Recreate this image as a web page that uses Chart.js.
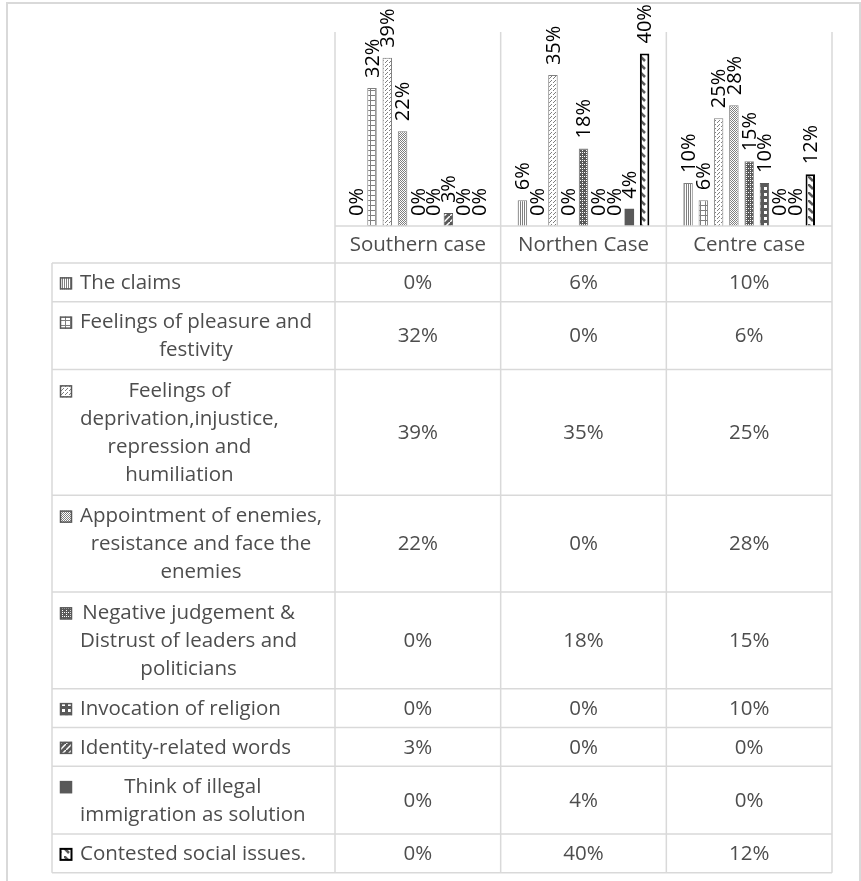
<!DOCTYPE html>
<html lang="en">
<head>
<meta charset="UTF-8">
<title>Discourse themes by case</title>
<script src="https://cdn.jsdelivr.net/npm/chart.js"></script>
<style>
  html, body { margin: 0; padding: 0; background: #fff; }
  canvas { display: block; }
</style>
</head>
<body>
<canvas id="chart" width="861" height="881"></canvas>
<script>
// columns of the data table
const cases = ['Southern case', 'Northen Case', 'Centre case'];

// row labels, split the way the table wraps them
const claimsLabel      = ['The claims'];
const pleasureLabel    = ['Feelings of pleasure and', 'festivity'];
const deprivationLabel = ['Feelings of', 'deprivation,injustice,', 'repression and', 'humiliation'];
const enemiesLabel     = ['Appointment of enemies,', 'resistance and face the', 'enemies'];
const distrustLabel    = ['Negative judgement &', 'Distrust of leaders and', 'politicians'];
const religionLabel    = ['Invocation of religion'];
const identityLabel    = ['Identity-related words'];
const immigrationLabel = ['Think of illegal', 'immigration as solution'];
const socialLabel      = ['Contested social issues.'];

// values in %, one per case
const claims      = [0, 6, 10];
const pleasure    = [32, 0, 6];
const deprivation = [39, 35, 25];
const enemies     = [22, 0, 28];
const distrust    = [0, 18, 15];
const religion    = [0, 0, 10];
const identity    = [3, 0, 0];
const immigration = [0, 4, 0];
const social      = [0, 40, 12];

const yMax = 45;

// --- fill patterns (Excel style hatches) ---
function pattern(size, draw) {
  const c = document.createElement('canvas');
  c.width = c.height = size;
  const g = c.getContext('2d');
  draw(g, size);
  return g.createPattern(c, 'repeat');
}
const GRAY = '#7f7f7f', DARK = '#595959';

const pClaims = pattern(2, g => { g.fillStyle = '#fff'; g.fillRect(0, 0, 2, 2); g.fillStyle = GRAY; g.fillRect(0, 0, 1, 2); });
const pPleasure = pattern(5, g => { g.fillStyle = '#fff'; g.fillRect(0, 0, 5, 5); g.fillStyle = GRAY; g.fillRect(0, 0, 5, 1); g.fillRect(0, 0, 1, 5); });
const pDeprivation = pattern(4, g => {
  g.fillStyle = '#fff'; g.fillRect(0, 0, 4, 4); g.fillStyle = GRAY;
  g.fillRect(3, 0, 1, 1); g.fillRect(2, 1, 1, 1); g.fillRect(1, 2, 1, 1);
});
const pEnemies = pattern(2, g => { g.fillStyle = '#fff'; g.fillRect(0, 0, 2, 2); g.fillStyle = GRAY; g.fillRect(0, 0, 1, 1); g.fillRect(1, 1, 1, 1); });
const pDistrust = pattern(4, g => {
  g.fillStyle = DARK; g.fillRect(0, 0, 4, 4); g.fillStyle = '#fff';
  g.fillRect(0, 0, 1, 1); g.fillRect(2, 2, 1, 1); g.fillRect(2, 0, 1, 1);
});
const pReligion = pattern(6, g => { g.fillStyle = DARK; g.fillRect(0, 0, 6, 6); g.fillStyle = '#fff'; g.fillRect(2, 1, 3, 3); });
const pIdentity = pattern(6, g => {
  g.fillStyle = DARK; g.fillRect(0, 0, 6, 6); g.strokeStyle = '#fff'; g.lineWidth = 1.5;
  g.beginPath(); g.moveTo(-1, 7); g.lineTo(7, -1); g.stroke();
});
const pSocial = pattern(8, g => {
  g.fillStyle = '#fff'; g.fillRect(0, 0, 8, 8); g.strokeStyle = DARK; g.lineWidth = 2.5;
  g.beginPath(); g.moveTo(-1, -1); g.lineTo(5, 5); g.stroke();
});

const rows = [
  { label: claimsLabel,      data: claims,      fill: pClaims,      border: GRAY,  bw: 1 },
  { label: pleasureLabel,    data: pleasure,    fill: pPleasure,    border: GRAY,  bw: 1 },
  { label: deprivationLabel, data: deprivation, fill: pDeprivation, border: GRAY,  bw: 1 },
  { label: enemiesLabel,     data: enemies,     fill: pEnemies,     border: GRAY,  bw: 1 },
  { label: distrustLabel,    data: distrust,    fill: pDistrust,    border: GRAY,  bw: 1 },
  { label: religionLabel,    data: religion,    fill: pReligion,    border: DARK,  bw: 1 },
  { label: identityLabel,    data: identity,    fill: pIdentity,    border: DARK,  bw: 1 },
  { label: immigrationLabel, data: immigration, fill: DARK,         border: DARK,  bw: 0 },
  { label: socialLabel,      data: social,      fill: pSocial,      border: '#000', bw: 2 }
];

const FONT = '"Open Sans", "DejaVu Sans", sans-serif';
const LINE = '#d9d9d9';
const TEXT = '#4d4d4d';

// white page with the light chart frame
const frame = {
  id: 'frame',
  beforeDraw(chart) {
    const ctx = chart.ctx;
    ctx.save();
    ctx.fillStyle = '#fff';
    ctx.fillRect(0, 0, chart.width, chart.height);
    ctx.strokeStyle = LINE;
    ctx.lineWidth = 2;
    ctx.strokeRect(7, 3, 853, chart.height + 20);
    ctx.restore();
  }
};

// rotated value labels above each bar
const valueLabels = {
  id: 'valueLabels',
  afterDatasetsDraw(chart) {
    const ctx = chart.ctx;
    ctx.save();
    ctx.font = '20px ' + FONT;
    ctx.fillStyle = '#000';
    ctx.textAlign = 'left';
    ctx.textBaseline = 'middle';
    chart.data.datasets.forEach((ds, i) => {
      chart.getDatasetMeta(i).data.forEach((bar, j) => {
        ctx.save();
        ctx.translate(bar.x + 1, bar.y - 10);
        ctx.rotate(-Math.PI / 2);
        ctx.fillText(ds.data[j] + '%', 0, 0);
        ctx.restore();
      });
    });
    ctx.restore();
  }
};

// the data table under the plot
const dataTable = {
  id: 'dataTable',
  afterDraw(chart) {
    const ctx = chart.ctx, x = chart.scales.x, area = chart.chartArea;
    const half = (x.getPixelForTick(1) - x.getPixelForTick(0)) / 2;
    const edges = [area.left].concat(cases.map((c, i) => x.getPixelForTick(i) + half));
    const tableLeft = 52, headerH = 37, lineGap = 28;
    const rowH = n => 9.75 + 29 * n;

    let y = area.bottom + headerH;
    const tops = [y];
    rows.forEach(r => { y += rowH(r.label.length); tops.push(y); });
    const bottom = y;

    ctx.save();
    ctx.strokeStyle = LINE;
    ctx.lineWidth = 1.5;
    ctx.beginPath();
    edges.forEach(ex => { ctx.moveTo(ex, area.top); ctx.lineTo(ex, bottom); });
    ctx.moveTo(tableLeft, tops[0]); ctx.lineTo(tableLeft, bottom);
    ctx.moveTo(area.left, area.bottom); ctx.lineTo(area.right, area.bottom);
    tops.forEach(t => { ctx.moveTo(tableLeft, t); ctx.lineTo(area.right, t); });
    ctx.stroke();

    ctx.font = '20.5px ' + FONT;
    ctx.fillStyle = TEXT;
    ctx.textBaseline = 'middle';

    // header
    ctx.textAlign = 'center';
    cases.forEach((c, i) => ctx.fillText(c, x.getPixelForTick(i), area.bottom + headerH / 2 + 1));

    rows.forEach((r, k) => {
      const top = tops[k], h = rowH(r.label.length), mid = top + h / 2 + 1;
      const n = r.label.length;
      const firstY = mid - (n - 1) / 2 * lineGap;

      // legend key
      ctx.fillStyle = r.fill;
      ctx.fillRect(60, firstY - 6, 12, 12);
      ctx.strokeStyle = r.bw === 2 ? '#000' : DARK;
      ctx.lineWidth = r.bw === 2 ? 2 : 1.5;
      ctx.strokeRect(60.5, firstY - 5.5, 11, 11);

      ctx.fillStyle = TEXT;
      const textLeft = 80;
      if (n === 1) {
        ctx.textAlign = 'left';
        ctx.fillText(r.label[0], textLeft, firstY);
      } else {
        const w = Math.max(...r.label.map(s => ctx.measureText(s).width));
        ctx.textAlign = 'center';
        r.label.forEach((s, i) => ctx.fillText(s, textLeft + w / 2, firstY + i * lineGap));
      }

      ctx.textAlign = 'center';
      r.data.forEach((v, i) => ctx.fillText(v + '%', x.getPixelForTick(i), mid));
    });
    ctx.restore();
  }
};

new Chart(document.getElementById('chart'), {
  type: 'bar',
  data: {
    labels: cases,
    datasets: rows.map(r => ({
      label: r.label.join(' '),
      data: r.data,
      backgroundColor: r.fill,
      borderColor: r.border,
      borderWidth: r.bw,
      categoryPercentage: 0.83,
      barPercentage: 0.62
    }))
  },
  options: {
    responsive: false,
    animation: false,
    layout: { padding: { left: 335, right: 29, top: 32, bottom: 655 } },
    plugins: { legend: { display: false }, tooltip: { enabled: false } },
    scales: {
      x: { display: false },
      y: { display: false, min: 0, max: yMax }
    }
  },
  plugins: [frame, valueLabels, dataTable]
});
</script>
</body>
</html>
